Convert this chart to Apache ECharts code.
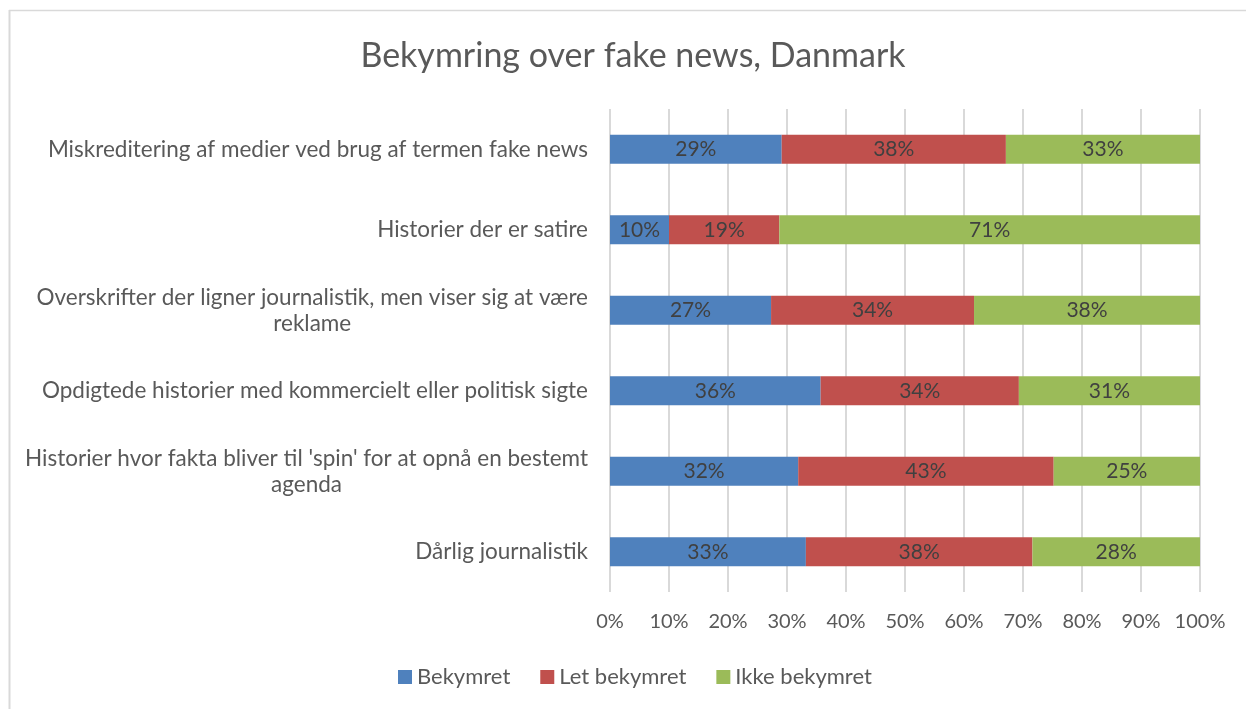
<!DOCTYPE html>
<html>
<head>
<meta charset="utf-8">
<title>Bekymring over fake news, Danmark</title>
<script src="https://cdn.jsdelivr.net/npm/echarts@6/dist/echarts.min.js"></script>
<style>
  html, body { margin: 0; padding: 0; background: #ffffff; }
  #chart { width: 1246px; height: 709px; }
</style>
</head>
<body>
<div id="chart"></div>
<script>
// Survey categories, top to bottom
var categories = [
  "Miskreditering af medier ved brug af termen fake news",
  "Historier der er satire",
  "Overskrifter der ligner journalistik, men viser sig at være\nreklame",
  "Opdigtede historier med kommercielt eller politisk sigte",
  "Historier hvor fakta bliver til 'spin' for at opnå en bestemt\nagenda",
  "Dårlig journalistik"
];

// Share of respondents (%) per answer
var bekymret      = [29.1, 10.0, 27.3, 35.7, 31.9, 33.2];
var letBekymret   = [38.0, 18.7, 34.4, 33.6, 43.3, 38.4];
var ikkeBekymret  = [32.9, 71.3, 38.3, 30.7, 24.8, 28.4];

var seriesNames = ["Bekymret", "Let bekymret", "Ikke bekymret"];
var seriesColors = ["#4F81BD", "#C0504D", "#9BBB59"];

// Value axis ticks
var xTicks = [0, 10, 20, 30, 40, 50, 60, 70, 80, 90, 100];

var FONT = "Lato, 'Open Sans', sans-serif";

var chart = echarts.init(document.getElementById("chart"), null, { renderer: "canvas" });

function barSeries(name, data, color) {
  return {
    name: name,
    type: "bar",
    stack: "total",
    data: data,
    barWidth: 29,
    itemStyle: { color: color },
    label: {
      show: true,
      position: "inside",
      color: "#404040",
      fontFamily: FONT,
      fontSize: 21,
      formatter: function (p) { return Math.round(p.value) + "%"; }
    },
    emphasis: { disabled: true }
  };
}

var option = {
  backgroundColor: "#ffffff",
  animation: false,
  title: {
    text: "Bekymring over fake news, Danmark",
    left: 628,
    top: 34,
    textAlign: "center",
    textStyle: {
      color: "#595959",
      fontFamily: FONT,
      fontSize: 34,
      fontWeight: "normal"
    }
  },
  legend: {
    data: seriesNames,
    bottom: 16,
    left: 393,
    itemWidth: 14,
    itemHeight: 14,
    itemGap: 30,
    icon: "rect",
    textStyle: { color: "#595959", fontFamily: FONT, fontSize: 22 }
  },
  grid: {
    left: 610,
    right: 46,
    top: 109,
    bottom: 117,
    containLabel: false
  },
  xAxis: {
    type: "value",
    min: xTicks[0],
    max: xTicks[xTicks.length - 1],
    interval: 10,
    axisLine: { show: false },
    axisTick: { show: false },
    splitLine: { show: true, lineStyle: { color: "#d9d9d9", width: 2 } },
    axisLabel: {
      color: "#595959",
      fontFamily: FONT,
      fontSize: 20,
      margin: 20,
      formatter: function (v) { return v + "%"; }
    }
  },
  yAxis: {
    type: "category",
    data: categories,
    inverse: true,
    axisLine: { show: false },
    axisTick: { show: false },
    axisLabel: {
      color: "#595959",
      fontFamily: FONT,
      fontSize: 22.5,
      margin: 22,
      lineHeight: 26,
      formatter: function (v) {
        return v.split("\n").map(function (line) { return "{c|" + line + "}"; }).join("\n");
      },
      rich: {
        c: { align: "center", color: "#595959", fontFamily: FONT, fontSize: 22.5, lineHeight: 26 }
      }
    }
  },
  series: [
    barSeries(seriesNames[0], bekymret, seriesColors[0]),
    barSeries(seriesNames[1], letBekymret, seriesColors[1]),
    barSeries(seriesNames[2], ikkeBekymret, seriesColors[2])
  ],
  graphic: [
    // chart area frame (top and left edges)
    { type: "line", shape: { x1: 9, y1: 10.5, x2: 1246, y2: 10.5 }, style: { stroke: "#d9d9d9", lineWidth: 1.5 }, silent: true },
    { type: "line", shape: { x1: 9.5, y1: 10, x2: 9.5, y2: 709 }, style: { stroke: "#d9d9d9", lineWidth: 2 }, silent: true }
  ]
};

chart.setOption(option);
</script>
</body>
</html>
